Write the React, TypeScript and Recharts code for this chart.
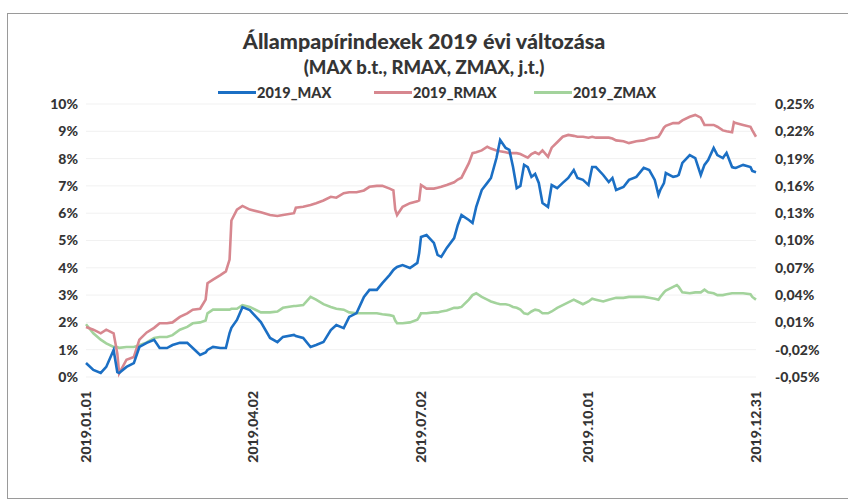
import { CartesianGrid, Line, LineChart, XAxis, YAxis } from "recharts"

// day of year (0 = 2019.01.01)
const days = [
    0, 4, 8, 11, 15, 17, 18, 22, 26, 29,
    33, 37, 40, 44, 47, 51, 55, 58, 62, 65,
    66, 69, 73, 76, 78, 79, 82, 85, 89, 95,
    100, 104, 107, 113, 114, 118, 122, 125, 129, 133,
    136, 140, 143, 147, 151, 154, 158, 161, 165, 167,
    168, 169, 172, 176, 180, 181, 182, 185, 189, 191,
    193, 196, 200, 202, 204, 208, 210, 212, 215, 218,
    220, 223, 225, 228, 230, 232, 234, 236, 238, 240,
    242, 244, 246, 248, 251, 253, 256, 259, 262, 265,
    267, 270, 273, 275, 277, 281, 284, 286, 288, 292,
    295, 299, 303, 306, 309, 311, 312, 314, 315, 319,
    321, 322, 324, 328, 331, 334, 336, 338, 341, 343,
    346, 348, 351, 352, 353, 357, 361, 362, 364,
]

// 2019_MAX, % (left axis)
const maxValues = [
    0.51, 0.26, 0.15, 0.37, 0.99, 0.18, 0.15, 0.37, 0.51, 1.10,
    1.25, 1.36, 1.06, 1.06, 1.17, 1.25, 1.25, 1.06, 0.81, 0.90,
    0.99, 1.10, 1.06, 1.06, 1.61, 1.80, 2.09, 2.56, 2.45, 2.01,
    1.43, 1.28, 1.47, 1.54, 1.50, 1.43, 1.10, 1.17, 1.28, 1.72,
    1.90, 1.79, 2.20, 2.34, 2.93, 3.19, 3.19, 3.44, 3.74, 3.92,
    3.98, 4.03, 4.10, 3.99, 4.18, 4.54, 5.13, 5.20, 4.91, 4.47,
    4.40, 4.73, 5.09, 5.57, 5.93, 5.75, 5.64, 6.23, 6.85, 7.11,
    7.29, 8.02, 8.68, 8.39, 8.32, 7.69, 6.92, 7.00, 7.77, 7.69,
    7.33, 7.44, 7.11, 6.37, 6.23, 7.03, 6.92, 7.11, 7.29, 7.58,
    7.29, 7.22, 7.03, 7.69, 7.69, 7.40, 7.14, 7.29, 6.85, 6.96,
    7.22, 7.33, 7.66, 7.58, 7.22, 6.67, 6.85, 7.10, 7.47, 7.33,
    7.36, 7.40, 7.84, 8.13, 8.02, 7.40, 7.77, 7.95, 8.39, 8.13,
    8.02, 8.21, 7.69, 7.67, 7.66, 7.77, 7.69, 7.55, 7.50,
]

// 2019_RMAX, % (right axis)
const rmaxValues = [
    0.005, 0.002, -0.002, 0.002, -0.002, -0.024, -0.046, -0.031, -0.028, -0.009,
    -0.001, 0.004, 0.009, 0.009, 0.010, 0.016, 0.020, 0.024, 0.025, 0.035,
    0.053, 0.057, 0.062, 0.066, 0.079, 0.122, 0.134, 0.138, 0.134, 0.131,
    0.128, 0.127, 0.128, 0.130, 0.136, 0.137, 0.139, 0.141, 0.144, 0.148,
    0.147, 0.152, 0.153, 0.153, 0.155, 0.159, 0.160, 0.160, 0.157, 0.155,
    0.134, 0.128, 0.137, 0.141, 0.143, 0.144, 0.161, 0.157, 0.157, 0.158,
    0.159, 0.161, 0.164, 0.167, 0.169, 0.185, 0.196, 0.197, 0.199, 0.203,
    0.201, 0.199, 0.198, 0.197, 0.196, 0.196, 0.196, 0.195, 0.193, 0.191,
    0.195, 0.197, 0.195, 0.199, 0.192, 0.202, 0.208, 0.214, 0.216, 0.215,
    0.214, 0.214, 0.213, 0.214, 0.213, 0.213, 0.213, 0.212, 0.210, 0.209,
    0.207, 0.209, 0.210, 0.212, 0.213, 0.214, 0.217, 0.224, 0.226, 0.229,
    0.229, 0.229, 0.232, 0.236, 0.238, 0.235, 0.227, 0.227, 0.227, 0.225,
    0.221, 0.220, 0.219, 0.230, 0.229, 0.227, 0.225, 0.221, 0.214,
]

// 2019_ZMAX, % (right axis)
const zmaxValues = [
    0.008, -0.002, -0.009, -0.013, -0.017, -0.017, -0.018, -0.017, -0.017, -0.015,
    -0.012, -0.007, -0.006, -0.006, -0.004, 0.002, 0.005, 0.009, 0.010, 0.012,
    0.020, 0.024, 0.024, 0.024, 0.024, 0.025, 0.025, 0.029, 0.027, 0.021,
    0.021, 0.022, 0.026, 0.028, 0.028, 0.029, 0.038, 0.035, 0.030, 0.027,
    0.025, 0.024, 0.021, 0.020, 0.020, 0.020, 0.020, 0.019, 0.018, 0.017,
    0.012, 0.009, 0.009, 0.010, 0.013, 0.016, 0.020, 0.020, 0.021, 0.021,
    0.022, 0.023, 0.026, 0.026, 0.027, 0.035, 0.040, 0.042, 0.038, 0.035,
    0.033, 0.031, 0.030, 0.030, 0.029, 0.027, 0.026, 0.024, 0.020, 0.019,
    0.022, 0.024, 0.023, 0.020, 0.020, 0.022, 0.026, 0.029, 0.032, 0.035,
    0.033, 0.030, 0.033, 0.036, 0.035, 0.033, 0.035, 0.036, 0.037, 0.037,
    0.038, 0.038, 0.038, 0.037, 0.036, 0.035, 0.038, 0.043, 0.045, 0.049,
    0.051, 0.049, 0.043, 0.042, 0.043, 0.043, 0.046, 0.043, 0.042, 0.040,
    0.040, 0.041, 0.042, 0.042, 0.042, 0.042, 0.041, 0.038, 0.035,
]

const xTickDays = [0, 91, 182, 273, 364]
const xTickLabels = ["2019.01.01", "2019.04.02", "2019.07.02", "2019.10.01", "2019.12.31"]
const leftTicks = [0, 1, 2, 3, 4, 5, 6, 7, 8, 9, 10]
const rightTicks = [-0.05, -0.02, 0.01, 0.04, 0.07, 0.1, 0.13, 0.16, 0.19, 0.22, 0.25]

const series = [
    { key: "MAX", name: "2019_MAX", color: "#1b6fc4", axis: "left" },
    { key: "RMAX", name: "2019_RMAX", color: "#d7878f", axis: "right" },
    { key: "ZMAX", name: "2019_ZMAX", color: "#a3d39c", axis: "right" },
]

const data = days.map((day, i) => ({
    day,
    MAX: maxValues[i],
    RMAX: rmaxValues[i],
    ZMAX: zmaxValues[i],
}))

const FONT = "Lato, 'Open Sans', sans-serif"
const TEXT = "#353535"
const tickStyle = { fontSize: 14, fontWeight: 900, fill: TEXT, fontFamily: FONT }

function DateTick({ x, y, payload }: any) {
    const idx = xTickDays.indexOf(payload.value)
    return (
        <text
            x={x}
            y={y}
            transform={`rotate(-90, ${x}, ${y})`}
            textAnchor="end"
            dy="0.35em"
            {...tickStyle}
        >
            {xTickLabels[idx]}
        </text>
    )
}

// legend swatch positions (px)
const legendLeft = [218, 374, 534]

export default function App() {
    return (
        <div
            style={{
                position: "absolute",
                left: 0,
                top: 0,
                width: 848,
                height: 500,
                background: "#fff",
                fontFamily: FONT,
                overflow: "hidden",
            }}
        >
            <div
                style={{
                    position: "absolute",
                    left: 7,
                    top: 13,
                    width: 850,
                    height: 484,
                    border: "1.5px solid #9a9a9a",
                }}
            />
            <div
                style={{
                    position: "absolute",
                    top: 28,
                    width: 848,
                    textAlign: "center",
                    fontSize: 21.5,
                    fontWeight: 900,
                    color: TEXT,
                }}
            >
                Állampapírindexek 2019 évi változása
            </div>
            <div
                style={{
                    position: "absolute",
                    top: 56,
                    width: 848,
                    textAlign: "center",
                    fontSize: 18.5,
                    fontWeight: 900,
                    color: TEXT,
                }}
            >
                (MAX b.t., RMAX, ZMAX, j.t.)
            </div>
            {series.map((s, i) => (
                <div
                    key={s.key}
                    style={{
                        position: "absolute",
                        left: legendLeft[i],
                        top: 84,
                        display: "flex",
                        alignItems: "center",
                        fontSize: 14.5,
                        fontWeight: 900,
                        color: TEXT,
                    }}
                >
                    <span style={{ display: "inline-block", width: 38, height: 3, background: s.color }} />
                    <span style={{ marginLeft: 1 }}>{s.name}</span>
                </div>
            ))}
            <LineChart
                width={848}
                height={500}
                data={data}
                margin={{ top: 104, right: 12, bottom: 43, left: 0 }}
                style={{ position: "absolute", left: 0, top: 0 }}
            >
                <CartesianGrid yAxisId="left" vertical={false} stroke="#f1f1f1" />
                <XAxis
                    dataKey="day"
                    type="number"
                    domain={[0, 364]}
                    ticks={xTickDays}
                    interval={0}
                    axisLine={false}
                    tickLine={false}
                    tickSize={0}
                    tickMargin={14}
                    height={80}
                    tick={<DateTick />}
                />
                <YAxis
                    yAxisId="left"
                    domain={[0, 10]}
                    ticks={leftTicks}
                    interval={0}
                    width={86}
                    axisLine={false}
                    tickLine={false}
                    tick={tickStyle}
                    tickFormatter={(v: number) => `${v}%`}
                />
                <YAxis
                    yAxisId="right"
                    orientation="right"
                    domain={[-0.05, 0.25]}
                    ticks={rightTicks}
                    interval={0}
                    width={80}
                    axisLine={false}
                    tickLine={false}
                    tickSize={0}
                    tickMargin={19}
                    tick={{ ...tickStyle, textAnchor: "start" }}
                    tickFormatter={(v: number) => `${v.toFixed(2).replace(".", ",")}%`}
                />
                {series
                    .slice()
                    .reverse()
                    .map((s) => (
                        <Line
                            key={s.key}
                            yAxisId={s.axis}
                            dataKey={s.key}
                            name={s.name}
                            type="linear"
                            stroke={s.color}
                            strokeWidth={2.6}
                            dot={false}
                            isAnimationActive={false}
                        />
                    ))}
            </LineChart>
        </div>
    )
}
